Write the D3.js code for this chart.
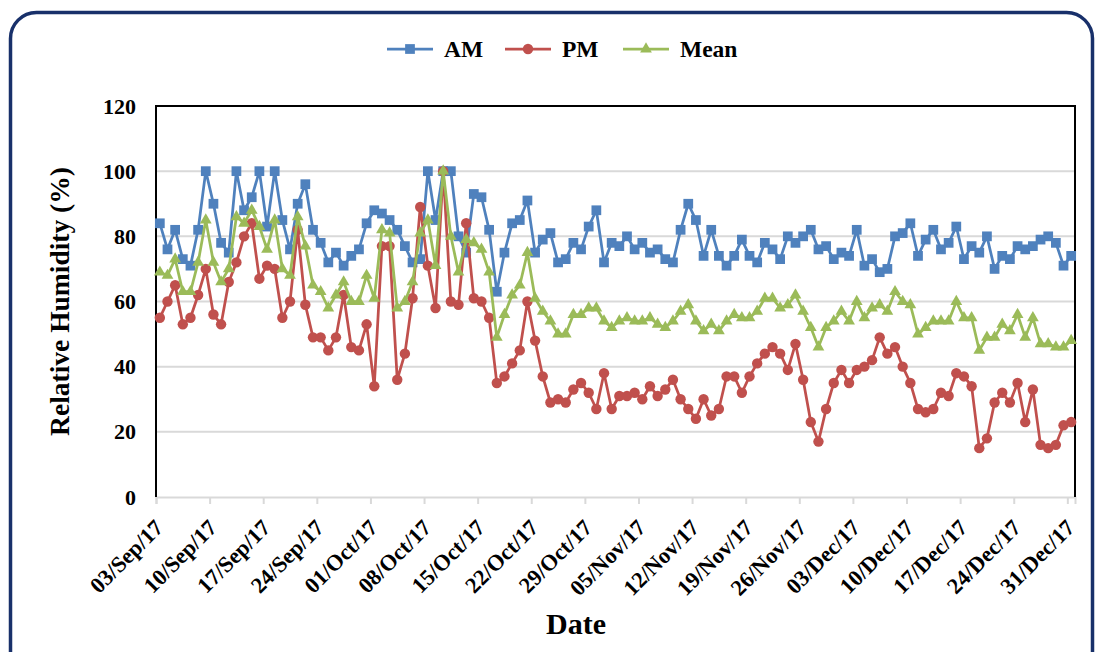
<!DOCTYPE html>
<html>
<head>
<meta charset="utf-8">
<script src="https://cdn.jsdelivr.net/npm/d3@7"></script>
<style>
  body { margin: 0; background: #fff; }
  text { font-family: "Liberation Serif", "Times New Roman", serif; font-weight: bold; fill: #000; }
</style>
</head>
<body>
<div id="chart"></div>
<script>
// daily readings, 03/Sep/17 .. 31/Dec/17
var startDay = new Date(Date.UTC(2017, 8, 3));
var endDay = new Date(Date.UTC(2018, 0, 1));

var amValues = [
  84, 76, 82, 73, 71, 82, 100, 90, 78, 75,
  100, 88, 92, 100, 83, 100, 85, 76, 90, 96,
  82, 78, 72, 75, 71, 74, 76, 84, 88, 87,
  85, 82, 77, 72, 73, 100, 85, 100, 100, 80,
  75, 93, 92, 82, 63, 75, 84, 85, 91, 75,
  79, 81, 72, 73, 78, 76, 83, 88, 72, 78,
  77, 80, 76, 78, 75, 76, 73, 72, 82, 90,
  85, 74, 82, 74, 71, 74, 79, 74, 72, 78,
  76, 73, 80, 78, 80, 82, 76, 77, 73, 75,
  74, 82, 71, 73, 69, 70, 80, 81, 84, 74,
  79, 82, 76, 78, 83, 73, 77, 75, 80, 70,
  74, 73, 77, 76, 77, 79, 80, 78, 71, 74
];

var pmValues = [
  55, 60, 65, 53, 55, 62, 70, 56, 53, 66,
  72, 80, 84, 67, 71, 70, 55, 60, 82, 59,
  49, 49, 45, 49, 62, 46, 45, 53, 34, 77,
  77, 36, 44, 61, 89, 71, 58, 100, 60, 59,
  84, 61, 60, 55, 35, 37, 41, 45, 60, 48,
  37, 29, 30, 29, 33, 35, 32, 27, 38, 27,
  31, 31, 32, 30, 34, 31, 33, 36, 30, 27,
  24, 30, 25, 27, 37, 37, 32, 37, 41, 44,
  46, 44, 39, 47, 36, 23, 17, 27, 35, 39,
  35, 39, 40, 42, 49, 44, 46, 40, 35, 27,
  26, 27, 32, 31, 38, 37, 34, 15, 18, 29,
  32, 29, 35, 23, 33, 16, 15, 16, 22, 23
];

var meanValues = [
  69, 68, 73, 63, 63, 72, 85, 72, 66, 70,
  86, 84, 88, 83, 76, 85, 70, 68, 86, 77,
  65, 63, 58, 62, 66, 60, 60, 68, 61, 82,
  81, 58, 60, 66, 81, 85, 71, 100, 80, 69,
  79, 78, 76, 69, 49, 56, 62, 65, 75, 61,
  57, 54, 50, 50, 56, 56, 58, 58, 54, 52,
  54, 55, 54, 54, 55, 53, 52, 54, 57, 59,
  54, 51, 53, 51, 54, 56, 55, 55, 57, 61,
  61, 58, 59, 62, 57, 52, 46, 52, 54, 57,
  54, 60, 55, 58, 59, 57, 63, 60, 59, 50,
  52, 54, 54, 54, 60, 55, 55, 45, 49, 49,
  53, 51, 56, 49, 55, 47, 47, 46, 46, 48
];

var seriesNames = ["AM", "PM", "Mean"];
var seriesColors = ["#4f81bd", "#c0504d", "#9bbb59"];
var yTicks = [0, 20, 40, 60, 80, 100, 120];

var width = 1099, height = 652;
var margin = {left: 156, right: 24, top: 106, bottom: 155};

var svg = d3.select("#chart").append("svg")
    .attr("width", width)
    .attr("height", height);

// outer rounded frame
svg.append("rect")
    .attr("x", 10.5).attr("y", 12.5)
    .attr("width", 1082).attr("height", 700)
    .attr("rx", 26).attr("ry", 26)
    .attr("fill", "none")
    .attr("stroke", "#18306a")
    .attr("stroke-width", 3.5);

var days = d3.utcDay.range(startDay, endDay);

var x = d3.scaleUtc()
    .domain([startDay, endDay])
    .range([margin.left, width - margin.right]);

var y = d3.scaleLinear()
    .domain([0, 120])
    .range([height - margin.bottom, margin.top]);

function xMid(d) { return x(d3.utcHour.offset(d, 12)); }

// gridlines
svg.append("g")
  .selectAll("line")
  .data(yTicks.filter(function(t) { return t > 0 && t < 120; }))
  .enter().append("line")
    .attr("x1", margin.left).attr("x2", width - margin.right)
    .attr("y1", function(d) { return y(d); })
    .attr("y2", function(d) { return y(d); })
    .attr("stroke", "#d9d9d9")
    .attr("stroke-width", 2);

// x axis
var xAxis = d3.axisBottom(x)
    .tickValues(d3.utcSunday.range(startDay, endDay))
    .tickFormat(d3.utcFormat("%d/%b/%y"))
    .tickSize(7)
    .tickPadding(0);

var gx = svg.append("g")
    .attr("transform", "translate(0," + y(0) + ")")
    .call(xAxis);
gx.select(".domain").attr("stroke", "#d9d9d9").attr("stroke-width", 2);
gx.selectAll(".tick line").attr("stroke", "#d9d9d9").attr("stroke-width", 2);
gx.selectAll(".tick text")
    .attr("font-size", "22.5px")
    .attr("fill", "#000")
    .attr("text-anchor", "end")
    .attr("dy", null)
    .attr("y", null)
    .attr("transform", "translate(8,32) rotate(-45)");

// y axis
var yAxis = d3.axisLeft(y)
    .tickValues(yTicks)
    .tickSize(0)
    .tickPadding(20);

var gy = svg.append("g")
    .attr("transform", "translate(" + margin.left + ",0)")
    .call(yAxis);
gy.select(".domain").remove();
gy.selectAll(".tick text")
    .attr("font-size", "22px")
    .attr("fill", "#000");

// plot frame: left, top, right in black
svg.append("path")
    .attr("d", "M" + margin.left + "," + y(0) + "V" + y(120) + "H" + (width - margin.right) + "V" + y(0))
    .attr("fill", "none")
    .attr("stroke", "#000")
    .attr("stroke-width", 2);

// series
var allSeries = [amValues, pmValues, meanValues];
var symbols = [d3.symbolSquare, d3.symbolCircle, d3.symbolTriangle];
var symbolSizes = [95, 85, 60];

var line = d3.line()
    .x(function(d, i) { return xMid(days[i]); })
    .y(function(d) { return y(d); });

allSeries.forEach(function(vals, s) {
  var g = svg.append("g").attr("class", "series");
  g.append("path")
      .datum(vals)
      .attr("d", line)
      .attr("fill", "none")
      .attr("stroke", seriesColors[s])
      .attr("stroke-width", 2.75)
      .attr("stroke-linejoin", "round");
  g.selectAll("path.mark")
      .data(vals)
      .enter().append("path")
      .attr("class", "mark")
      .attr("d", d3.symbol().type(symbols[s]).size(symbolSizes[s]))
      .attr("transform", function(d, i) { return "translate(" + xMid(days[i]) + "," + y(d) + ")"; })
      .attr("fill", seriesColors[s]);
});

// legend
var legendX = [387, 505, 623];
var legend = svg.append("g");
seriesNames.forEach(function(name, s) {
  var lx = legendX[s];
  legend.append("line")
      .attr("x1", lx).attr("x2", lx + 46)
      .attr("y1", 49).attr("y2", 49)
      .attr("stroke", seriesColors[s])
      .attr("stroke-width", 2.75);
  legend.append("path")
      .attr("d", d3.symbol().type(symbols[s]).size(symbolSizes[s])())
      .attr("transform", "translate(" + (lx + 23) + ",49)")
      .attr("fill", seriesColors[s]);
  legend.append("text")
      .attr("x", lx + 57).attr("y", 57)
      .attr("font-size", "23.5px")
      .text(name);
});

// axis titles
svg.append("text")
    .attr("transform", "translate(69," + (margin.top + (y(0) - margin.top) / 2) + ") rotate(-90)")
    .attr("text-anchor", "middle")
    .attr("font-size", "27.5px")
    .text("Relative Humidity (%)");

svg.append("text")
    .attr("x", 576).attr("y", 634)
    .attr("text-anchor", "middle")
    .attr("font-size", "30px")
    .text("Date");
</script>
</body>
</html>
